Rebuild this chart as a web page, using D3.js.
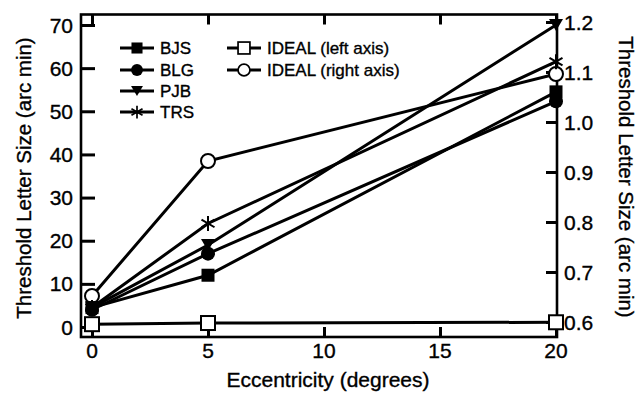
<!DOCTYPE html>
<html>
<head>
<meta charset="utf-8">
<script src="https://cdn.jsdelivr.net/npm/d3@7"></script>
<style>
  body { margin: 0; background: #fff; }
  svg { display: block; font-family: "Liberation Sans", Arial, Helvetica, sans-serif; }
  text { stroke: #000; stroke-width: 0.35px; }
</style>
</head>
<body>
<div id="chart"></div>
<script>
'use strict'

// eccentricity (degrees)
const ecc = [0, 5, 20]

// threshold letter size, arc min (left axis)
const bjs = [4.5, 12, 54.5]
const blg = [4, 17, 52.3]
const pjb = [4.5, 19, 70]
const trs = [4.5, 24, 61.5]

// ideal observer, arc min (same values, drawn on both axes)
const ideal = [0.652, 0.922, 1.096]

const xTicks = [0, 5, 10, 15, 20]
const yLeftTicks = [0, 10, 20, 30, 40, 50, 60, 70]
const yRightTicks = [0.6, 0.7, 0.8, 0.9, 1.0, 1.1, 1.2]

const legendNames = ['BJS', 'BLG', 'PJB', 'TRS', 'IDEAL (left axis)', 'IDEAL (right axis)']

////////////////////////////////////
//////////// svg setup /////////////
////////////////////////////////////

const svgWidth = 639
const svgHeight = 394

const frame = { left: 81, right: 557, top: 14.5, bottom: 337 }

const svg = d3.select('#chart')
    .append('svg')
    .attr('width', svgWidth)
    .attr('height', svgHeight)

const x = d3.scaleLinear().domain([0, 20]).range([92, 556])
const yL = d3.scaleLinear().domain([0, 70]).range([327, 25])
const yR = d3.scaleLinear().domain([0.6, 1.2]).range([322, 22])

////////////////////////////////////
//////////////// axes //////////////
////////////////////////////////////

const ax = svg.append('g')

// left axis, ticks pointing inward
ax.append('g')
    .attr('transform', `translate(${frame.left},0)`)
    .call(d3.axisRight(yL).tickValues(yLeftTicks).tickSize(14).tickFormat(''))
ax.append('g').selectAll('text')
    .data(yLeftTicks)
    .join('text')
    .attr('x', 73)
    .attr('y', d => yL(d))
    .attr('dy', '0.36em')
    .attr('text-anchor', 'end')
    .attr('font-size', 21)
    .text(d => d)

// right axis
ax.append('g')
    .attr('transform', `translate(${frame.right},0)`)
    .call(d3.axisLeft(yR).tickValues(yRightTicks).tickSize(11).tickFormat(''))
ax.append('g').selectAll('text')
    .data(yRightTicks)
    .join('text')
    .attr('x', 564)
    .attr('y', d => yR(d))
    .attr('dy', '0.36em')
    .attr('font-size', 21)
    .text(d => d3.format('.1f')(d))

// bottom & top axes
ax.append('g')
    .attr('transform', `translate(0,${frame.bottom})`)
    .call(d3.axisTop(x).tickValues(xTicks).tickSize(10).tickFormat(''))
ax.append('g')
    .attr('transform', `translate(0,${frame.top})`)
    .call(d3.axisBottom(x).tickValues(xTicks).tickSize(10).tickFormat(''))
ax.append('g').selectAll('text')
    .data(xTicks)
    .join('text')
    .attr('x', d => x(d))
    .attr('y', 358)
    .attr('text-anchor', 'middle')
    .attr('font-size', 21)
    .text(d => d)

ax.selectAll('.domain').remove()
ax.selectAll('.tick line').attr('stroke', '#000').attr('stroke-width', 3)

svg.append('rect')
    .attr('x', frame.left)
    .attr('y', frame.top)
    .attr('width', frame.right - frame.left)
    .attr('height', frame.bottom - frame.top)
    .attr('fill', 'none')
    .attr('stroke', '#000')
    .attr('stroke-width', 2.6)

// axis titles
svg.append('text')
    .attr('x', 328)
    .attr('y', 387)
    .attr('text-anchor', 'middle')
    .attr('font-size', 21)
    .text('Eccentricity (degrees)')

svg.append('text')
    .attr('transform', 'translate(31,178) rotate(-90)')
    .attr('text-anchor', 'middle')
    .attr('font-size', 20.5)
    .text('Threshold Letter Size (arc min)')

svg.append('text')
    .attr('transform', 'translate(619,177) rotate(90)')
    .attr('text-anchor', 'middle')
    .attr('font-size', 20.5)
    .text('Threshold Letter Size (arc min)')

////////////////////////////////////
/////////////// marks //////////////
////////////////////////////////////

// marker painters, drawn centred at 0,0
function marker(g, kind) {
    if (kind === 'fsq') {
        g.append('rect').attr('x', -6.5).attr('y', -6.5).attr('width', 13).attr('height', 13).attr('fill', '#000')
    } else if (kind === 'fci') {
        g.append('circle').attr('r', 7).attr('fill', '#000')
    } else if (kind === 'tri') {
        g.append('path').attr('d', 'M-7,-6L7,-6L0,6Z').attr('fill', '#000')
    } else if (kind === 'star') {
        g.append('path')
            .attr('d', 'M0,-7.5L0,7.5M-6.5,-3.8L6.5,3.8M-6.5,3.8L6.5,-3.8')
            .attr('stroke', '#000').attr('stroke-width', 2)
    } else if (kind === 'osq') {
        g.append('rect').attr('x', -7).attr('y', -7).attr('width', 14).attr('height', 14)
            .attr('fill', '#fff').attr('stroke', '#000').attr('stroke-width', 2)
    } else if (kind === 'oci') {
        g.append('circle').attr('r', 7).attr('fill', '#fff').attr('stroke', '#000').attr('stroke-width', 2)
    }
}

const series = [
    { vals: ideal, y: yL, kind: 'osq' },
    { vals: ideal, y: yR, kind: 'oci' },
    { vals: bjs, y: yL, kind: 'fsq' },
    { vals: blg, y: yL, kind: 'fci' },
    { vals: pjb, y: yL, kind: 'tri' },
    { vals: trs, y: yL, kind: 'star' }
]

const line = (s) => d3.line()
    .x((d, i) => x(ecc[i]))
    .y(d => s.y(d))

const marks = svg.append('g')

series.forEach(s => {
    marks.append('path')
        .datum(s.vals)
        .attr('d', line(s))
        .attr('fill', 'none')
        .attr('stroke', '#000')
        .attr('stroke-width', 3)
})

series.forEach(s => {
    s.vals.forEach((v, i) => {
        const g = marks.append('g').attr('transform', `translate(${x(ecc[i])},${s.y(v)})`)
        marker(g, s.kind)
    })
})

////////////////////////////////////
/////////////// legend /////////////
////////////////////////////////////

const legendItems = [
    { name: legendNames[0], kind: 'fsq', lx: 120, ly: 48 },
    { name: legendNames[1], kind: 'fci', lx: 120, ly: 70 },
    { name: legendNames[2], kind: 'tri', lx: 120, ly: 91 },
    { name: legendNames[3], kind: 'star', lx: 120, ly: 112 },
    { name: legendNames[4], kind: 'osq', lx: 227, ly: 48 },
    { name: legendNames[5], kind: 'oci', lx: 227, ly: 70 }
]

const legend = svg.append('g')
legendItems.forEach(d => {
    const g = legend.append('g').attr('transform', `translate(${d.lx},${d.ly})`)
    g.append('line').attr('x1', 0).attr('x2', 34).attr('stroke', '#000').attr('stroke-width', 3)
    const m = g.append('g').attr('transform', 'translate(17,0) scale(0.85)')
    marker(m, d.kind)
    g.append('text')
        .attr('x', 40)
        .attr('dy', '0.36em')
        .attr('font-size', 17)
        .text(d.name)
})
</script>
</body>
</html>
